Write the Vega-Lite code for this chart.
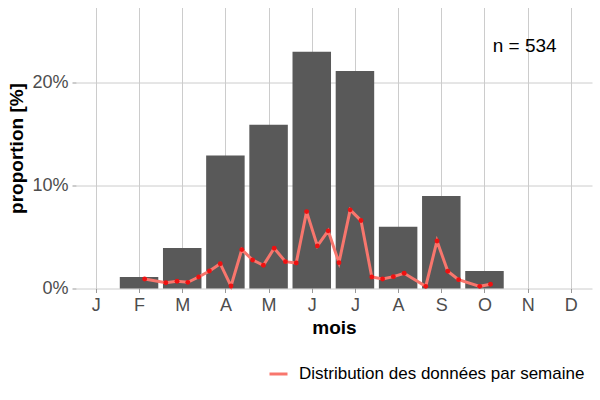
{
  "$schema": "https://vega.github.io/schema/vega-lite/v6.json",
  "width": 516,
  "height": 281,
  "autosize": {"type": "none"},
  "padding": {"left": 76, "top": 7.5, "right": 8, "bottom": 111.5},
  "background": "white",
  "config": {
    "view": {"stroke": null},
    "font": "Liberation Sans",
    "axis": {
      "grid": true,
      "gridColor": "#cccccc",
      "gridWidth": 1,
      "domain": false,
      "tickColor": "#999999",
      "tickSize": 4,
      "labelColor": "#4d4d4d",
      "labelFontSize": 18,
      "labelFont": "Liberation Sans",
      "titleFontSize": 19,
      "titleFontWeight": "bold",
      "titleColor": "black",
      "titleFont": "Liberation Sans"
    }
  },
  "datasets": {
    "mois": [
      {"mois": 2, "proportion": 1.12},
      {"mois": 3, "proportion": 3.94},
      {"mois": 4, "proportion": 12.92},
      {"mois": 5, "proportion": 15.92},
      {"mois": 6, "proportion": 23.0},
      {"mois": 7, "proportion": 21.13},
      {"mois": 8, "proportion": 5.99},
      {"mois": 9, "proportion": 8.99},
      {"mois": 10, "proportion": 1.69}
    ],
    "semaines": [
      {"x": 2.13, "proportion": 0.92, "serie": "Distribution des données par semaine"},
      {"x": 2.62, "proportion": 0.56, "serie": "Distribution des données par semaine"},
      {"x": 2.88, "proportion": 0.70, "serie": "Distribution des données par semaine"},
      {"x": 3.13, "proportion": 0.60, "serie": "Distribution des données par semaine"},
      {"x": 3.38, "proportion": 1.12, "serie": "Distribution des données par semaine"},
      {"x": 3.63, "proportion": 1.70, "serie": "Distribution des données par semaine"},
      {"x": 3.88, "proportion": 2.41, "serie": "Distribution des données par semaine"},
      {"x": 4.13, "proportion": 0.24, "serie": "Distribution des données par semaine"},
      {"x": 4.38, "proportion": 3.78, "serie": "Distribution des données par semaine"},
      {"x": 4.63, "proportion": 2.77, "serie": "Distribution des données par semaine"},
      {"x": 4.88, "proportion": 2.26, "serie": "Distribution des données par semaine"},
      {"x": 5.13, "proportion": 3.91, "serie": "Distribution des données par semaine"},
      {"x": 5.39, "proportion": 2.61, "serie": "Distribution des données par semaine"},
      {"x": 5.64, "proportion": 2.48, "serie": "Distribution des données par semaine"},
      {"x": 5.88, "proportion": 7.47, "serie": "Distribution des données par semaine"},
      {"x": 6.13, "proportion": 4.14, "serie": "Distribution des données par semaine"},
      {"x": 6.38, "proportion": 5.60, "serie": "Distribution des données par semaine"},
      {"x": 6.63, "proportion": 2.51, "serie": "Distribution des données par semaine"},
      {"x": 6.89, "proportion": 7.64, "serie": "Distribution des données par semaine"},
      {"x": 7.14, "proportion": 6.60, "serie": "Distribution des données par semaine"},
      {"x": 7.39, "proportion": 1.12, "serie": "Distribution des données par semaine"},
      {"x": 7.64, "proportion": 0.92, "serie": "Distribution des données par semaine"},
      {"x": 7.89, "proportion": 1.15, "serie": "Distribution des données par semaine"},
      {"x": 8.14, "proportion": 1.48, "serie": "Distribution des données par semaine"},
      {"x": 8.64, "proportion": 0.21, "serie": "Distribution des données par semaine"},
      {"x": 8.90, "proportion": 4.62, "serie": "Distribution des données par semaine"},
      {"x": 9.15, "proportion": 1.67, "serie": "Distribution des données par semaine"},
      {"x": 9.40, "proportion": 0.86, "serie": "Distribution des données par semaine"},
      {"x": 9.89, "proportion": 0.21, "serie": "Distribution des données par semaine"},
      {"x": 10.14, "proportion": 0.41, "serie": "Distribution des données par semaine"}
    ],
    "annotation": [
      {"x": 10.93, "y": 23.0, "label": "n = 534"}
    ]
  },
  "layer": [
    {
      "data": {"name": "mois"},
      "mark": {"type": "bar", "color": "#595959", "width": 38.5},
      "encoding": {
        "x": {
          "field": "mois",
          "type": "quantitative",
          "scale": {"domain": [0.54, 12.49], "nice": false, "zero": false, "padding": 0},
          "axis": {
            "title": "mois",
            "values": [1, 2, 3, 4, 5, 6, 7, 8, 9, 10, 11, 12],
            "labelExpr": "['J','F','M','A','M','J','J','A','S','O','N','D'][datum.value - 1]",
            "labelPadding": 4,
            "titleX": 258,
            "titleY": 44.5,
            "titleBaseline": "alphabetic"
          }
        },
        "y": {
          "field": "proportion",
          "type": "quantitative",
          "scale": {"domain": [0, 27.3], "nice": false},
          "axis": {
            "title": "proportion [%]",
            "values": [0, 10, 20],
            "labelExpr": "datum.value + '%'",
            "labelPadding": 4,
            "titleX": -50,
            "titleBaseline": "bottom"
          }
        }
      }
    },
    {
      "data": {"name": "semaines"},
      "mark": {"type": "line", "strokeWidth": 3},
      "encoding": {
        "x": {"field": "x", "type": "quantitative"},
        "y": {"field": "proportion", "type": "quantitative"},
        "color": {
          "field": "serie",
          "type": "nominal",
          "scale": {"range": ["#F8766D"]},
          "legend": {
            "title": null,
            "orient": "none",
            "legendX": 192,
            "legendY": 356,
            "padding": 0,
            "symbolType": "stroke",
            "symbolSize": 324,
            "symbolStrokeWidth": 3,
            "labelFontSize": 17,
            "labelColor": "black",
            "labelFont": "Liberation Sans",
            "labelOffset": 10,
            "labelLimit": 400
          }
        }
      }
    },
    {
      "data": {"name": "semaines"},
      "mark": {"type": "point", "filled": true, "color": "#ee1111", "size": 24, "opacity": 1},
      "encoding": {
        "x": {"field": "x", "type": "quantitative"},
        "y": {"field": "proportion", "type": "quantitative"}
      }
    },
    {
      "data": {"name": "annotation"},
      "mark": {"type": "text", "fontSize": 19, "color": "black", "align": "center", "baseline": "alphabetic", "font": "Liberation Sans"},
      "encoding": {
        "x": {"field": "x", "type": "quantitative"},
        "y": {"field": "y", "type": "quantitative"},
        "text": {"field": "label"}
      }
    }
  ]
}
